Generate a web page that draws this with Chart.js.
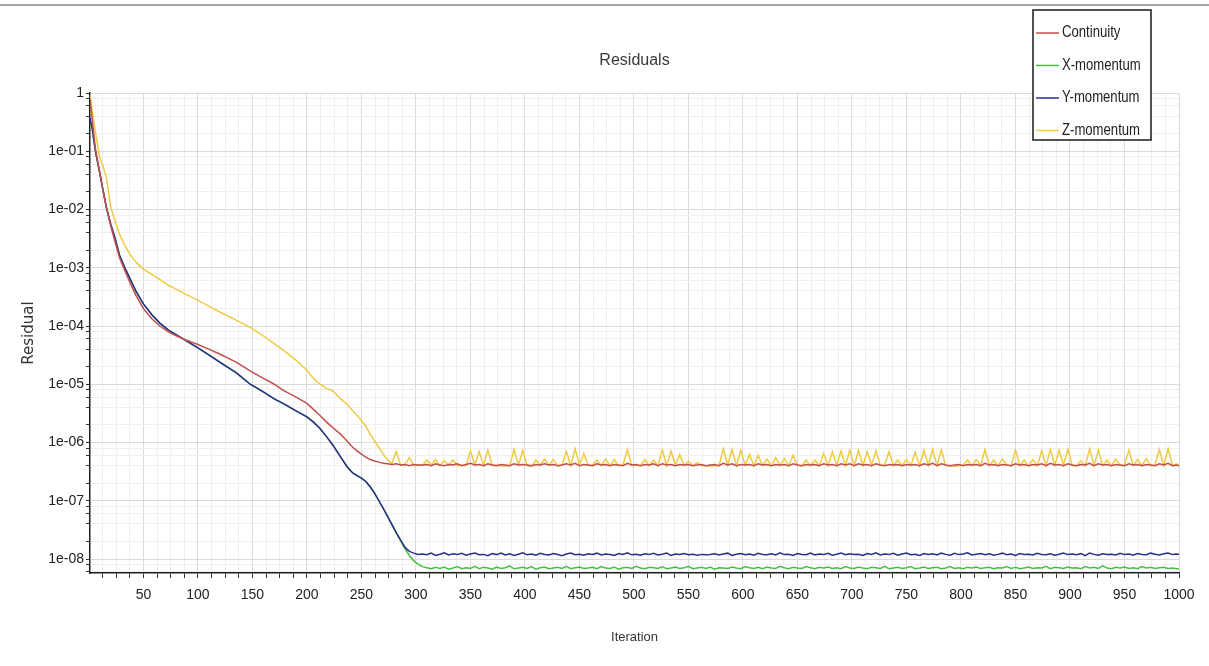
<!DOCTYPE html>
<html>
<head>
<meta charset="utf-8">
<title>Residuals</title>
<script src="https://cdn.jsdelivr.net/npm/chart.js@4.4.1/dist/chart.umd.min.js"></script>
<style>
  html, body { margin: 0; padding: 0; background: #ffffff; }
  #wrap { position: relative; width: 1209px; height: 666px; overflow: hidden; }
  #topRule { position: absolute; left: 0; top: 4px; width: 1209px; height: 2px; background: #a2a2a2; }
  #c { position: absolute; left: 0; top: 0; }
</style>
</head>
<body>
<div id="wrap">
  <div id="topRule"></div>
  <canvas id="c" width="1209" height="666"></canvas>
</div>
<script>
// ---- residual history -------------------------------------------------------
const iterations = [
  1, 3, 6, 10, 13, 16, 20, 24, 28, 33,
  38, 43, 50, 58, 65, 73, 80, 89, 100, 110,
  120, 135, 148, 160, 170, 178, 190, 200, 206, 212,
  218, 224, 231, 237, 242, 246, 250, 254, 258, 262,
  266, 270, 274, 278, 282, 286, 290, 294, 298, 302,
  306, 310, 314, 318, 322, 326, 330, 334, 338, 342,
  346, 350, 354, 358, 362, 366, 370, 374, 378, 382,
  386, 390, 394, 398, 402, 406, 410, 414, 418, 422,
  426, 430, 434, 438, 442, 446, 450, 454, 458, 462,
  466, 470, 474, 478, 482, 486, 490, 494, 498, 502,
  506, 510, 514, 518, 522, 526, 530, 534, 538, 542,
  546, 550, 554, 558, 562, 566, 570, 574, 578, 582,
  586, 590, 594, 598, 602, 606, 610, 614, 618, 622,
  626, 630, 634, 638, 642, 646, 650, 654, 658, 662,
  666, 670, 674, 678, 682, 686, 690, 694, 698, 702,
  706, 710, 714, 718, 722, 726, 730, 734, 738, 742,
  746, 750, 754, 758, 762, 766, 770, 774, 778, 782,
  786, 790, 794, 798, 802, 806, 810, 814, 818, 822,
  826, 830, 834, 838, 842, 846, 850, 854, 858, 862,
  866, 870, 874, 878, 882, 886, 890, 894, 898, 902,
  906, 910, 914, 918, 922, 926, 930, 934, 938, 942,
  946, 950, 954, 958, 962, 966, 970, 974, 978, 982,
  986, 990, 994, 998, 1000
];

const continuity = [
  0.8, 0.35, 0.11, 0.042, 0.021, 0.0107, 5.2e-3, 2.8e-3, 1.5e-3, 8.9e-4,
  5.4e-4, 3.4e-4, 2.0e-4, 1.32e-4, 1.0e-4, 7.9e-5, 6.8e-5, 5.75e-5, 4.8e-5, 4.0e-5,
  3.3e-5, 2.4e-5, 1.7e-5, 1.26e-5, 1.0e-5, 7.9e-6, 6.0e-6, 4.7e-6, 3.7e-6, 2.9e-6,
  2.24e-6, 1.78e-6, 1.38e-6, 1.05e-6, 8.3e-7, 7.2e-7, 6.3e-7, 5.6e-7, 5.1e-7, 4.8e-7,
  4.6e-7, 4.4e-7, 4.3e-7, 4.2e-7, 4.3e-7, 4.1e-7, 4.2e-7, 4.0e-7, 4.2e-7, 4.1e-7,
  4.1e-7, 4.2e-7, 4.0e-7, 4.3e-7, 4.1e-7, 4.0e-7, 4.2e-7, 4.1e-7, 4.3e-7, 4.0e-7,
  4.2e-7, 4.4e-7, 4.1e-7, 4.2e-7, 4.0e-7, 4.3e-7, 4.1e-7, 4.0e-7, 4.2e-7, 4.1e-7,
  4.0e-7, 4.3e-7, 4.1e-7, 4.2e-7, 4.1e-7, 4.0e-7, 4.2e-7, 4.1e-7, 4.3e-7, 4.1e-7,
  4.2e-7, 4.0e-7, 4.1e-7, 4.3e-7, 4.1e-7, 4.4e-7, 4.0e-7, 4.2e-7, 4.1e-7, 4.0e-7,
  4.3e-7, 4.1e-7, 4.2e-7, 4.0e-7, 4.2e-7, 4.1e-7, 4.0e-7, 4.4e-7, 4.1e-7, 4.2e-7,
  4.0e-7, 4.2e-7, 4.1e-7, 4.3e-7, 4.0e-7, 4.3e-7, 4.1e-7, 4.2e-7, 4.0e-7, 4.2e-7,
  4.1e-7, 4.2e-7, 4.0e-7, 4.1e-7, 4.2e-7, 4.0e-7, 4.1e-7, 4.2e-7, 4.0e-7, 4.4e-7,
  4.1e-7, 4.3e-7, 4.0e-7, 4.2e-7, 4.1e-7, 4.2e-7, 4.0e-7, 4.3e-7, 4.1e-7, 4.2e-7,
  4.0e-7, 4.2e-7, 4.1e-7, 4.2e-7, 4.0e-7, 4.3e-7, 4.1e-7, 4.0e-7, 4.2e-7, 4.1e-7,
  4.2e-7, 4.0e-7, 4.3e-7, 4.1e-7, 4.2e-7, 4.0e-7, 4.3e-7, 4.1e-7, 4.3e-7, 4.0e-7,
  4.3e-7, 4.1e-7, 4.2e-7, 4.0e-7, 4.3e-7, 4.1e-7, 4.0e-7, 4.2e-7, 4.1e-7, 4.2e-7,
  4.0e-7, 4.2e-7, 4.1e-7, 4.2e-7, 4.0e-7, 4.3e-7, 4.1e-7, 4.4e-7, 4.0e-7, 4.3e-7,
  4.1e-7, 4.0e-7, 4.1e-7, 4.2e-7, 4.0e-7, 4.2e-7, 4.1e-7, 4.2e-7, 4.0e-7, 4.4e-7,
  4.1e-7, 4.2e-7, 4.0e-7, 4.2e-7, 4.1e-7, 4.0e-7, 4.3e-7, 4.1e-7, 4.2e-7, 4.0e-7,
  4.2e-7, 4.1e-7, 4.3e-7, 4.0e-7, 4.4e-7, 4.1e-7, 4.2e-7, 4.0e-7, 4.3e-7, 4.1e-7,
  4.0e-7, 4.2e-7, 4.1e-7, 4.4e-7, 4.0e-7, 4.3e-7, 4.1e-7, 4.2e-7, 4.0e-7, 4.2e-7,
  4.1e-7, 4.0e-7, 4.3e-7, 4.1e-7, 4.2e-7, 4.0e-7, 4.2e-7, 4.1e-7, 4.0e-7, 4.3e-7,
  4.1e-7, 4.4e-7, 4.0e-7, 4.1e-7, 4.0e-7
];

const xMomentum = [
  0.35, 0.24, 0.1, 0.042, 0.021, 0.011, 5.6e-3, 3.2e-3, 1.66e-3, 1.0e-3,
  6.3e-4, 4.0e-4, 2.4e-4, 1.55e-4, 1.12e-4, 8.5e-5, 7.1e-5, 5.6e-5, 4.2e-5, 3.2e-5,
  2.4e-5, 1.58e-5, 1.0e-5, 7.4e-6, 5.6e-6, 4.7e-6, 3.5e-6, 2.75e-6, 2.24e-6, 1.74e-6,
  1.26e-6, 8.9e-7, 5.6e-7, 3.8e-7, 3.0e-7, 2.7e-7, 2.45e-7, 2.14e-7, 1.74e-7, 1.35e-7,
  1.0e-7, 7.4e-8, 5.4e-8, 3.9e-8, 2.8e-8, 2.05e-8, 1.5e-8, 1.15e-8, 9.3e-9, 8.2e-9,
  7.4e-9, 7.1e-9, 6.8e-9, 7.2e-9, 6.9e-9, 7.3e-9, 6.7e-9, 7.0e-9, 7.4e-9, 6.8e-9,
  7.1e-9, 6.9e-9, 7.5e-9, 6.8e-9, 7.2e-9, 7.0e-9, 6.7e-9, 7.3e-9, 6.9e-9, 7.1e-9,
  7.6e-9, 6.8e-9, 7.0e-9, 7.2e-9, 6.9e-9, 7.4e-9, 6.7e-9, 7.1e-9, 7.3e-9, 6.8e-9,
  7.0e-9, 7.2e-9, 6.9e-9, 7.5e-9, 6.8e-9, 7.1e-9, 7.3e-9, 6.9e-9, 7.0e-9, 7.2e-9,
  6.8e-9, 7.4e-9, 7.0e-9, 6.9e-9, 7.3e-9, 6.7e-9, 7.1e-9, 7.2e-9, 6.9e-9, 7.5e-9,
  7.0e-9, 6.8e-9, 7.2e-9, 7.1e-9, 6.9e-9, 7.4e-9, 6.8e-9, 7.0e-9, 7.3e-9, 6.9e-9,
  7.1e-9, 7.5e-9, 6.8e-9, 7.0e-9, 7.2e-9, 6.9e-9, 7.3e-9, 6.7e-9, 7.1e-9, 7.0e-9,
  6.9e-9, 7.3e-9, 7.0e-9, 6.8e-9, 7.4e-9, 7.1e-9, 6.9e-9, 7.2e-9, 6.8e-9, 7.3e-9,
  7.0e-9, 6.9e-9, 7.5e-9, 7.1e-9, 6.8e-9, 7.2e-9, 7.0e-9, 6.9e-9, 7.4e-9, 7.1e-9,
  6.8e-9, 7.2e-9, 7.0e-9, 7.3e-9, 6.9e-9, 7.1e-9, 6.8e-9, 7.4e-9, 7.0e-9, 6.9e-9,
  7.3e-9, 7.0e-9, 6.8e-9, 7.2e-9, 7.1e-9, 6.9e-9, 7.5e-9, 6.8e-9, 7.0e-9, 7.2e-9,
  6.9e-9, 7.1e-9, 7.4e-9, 6.8e-9, 7.0e-9, 7.3e-9, 6.9e-9, 7.1e-9, 7.2e-9, 6.8e-9,
  7.0e-9, 7.4e-9, 6.9e-9, 7.1e-9, 6.8e-9, 7.2e-9, 7.0e-9, 7.3e-9, 6.9e-9, 7.1e-9,
  7.2e-9, 6.8e-9, 7.1e-9, 7.0e-9, 7.4e-9, 6.9e-9, 7.2e-9, 6.8e-9, 7.0e-9, 7.3e-9,
  6.9e-9, 7.1e-9, 7.0e-9, 7.5e-9, 6.8e-9, 7.2e-9, 7.1e-9, 6.9e-9, 7.3e-9, 7.0e-9,
  7.1e-9, 6.8e-9, 7.4e-9, 7.0e-9, 7.2e-9, 6.9e-9, 7.6e-9, 7.0e-9, 6.8e-9, 7.2e-9,
  7.0e-9, 7.3e-9, 6.9e-9, 7.1e-9, 6.8e-9, 7.4e-9, 7.0e-9, 7.2e-9, 6.9e-9, 7.1e-9,
  7.2e-9, 6.9e-9, 7.0e-9, 6.8e-9, 6.7e-9
];

const yMomentum = [
  0.37, 0.25, 0.1, 0.042, 0.021, 0.011, 5.6e-3, 3.2e-3, 1.66e-3, 1.0e-3,
  6.3e-4, 4.0e-4, 2.4e-4, 1.55e-4, 1.12e-4, 8.5e-5, 7.1e-5, 5.6e-5, 4.2e-5, 3.2e-5,
  2.4e-5, 1.58e-5, 1.0e-5, 7.4e-6, 5.6e-6, 4.7e-6, 3.5e-6, 2.75e-6, 2.24e-6, 1.74e-6,
  1.26e-6, 8.9e-7, 5.6e-7, 3.8e-7, 3.0e-7, 2.7e-7, 2.45e-7, 2.14e-7, 1.74e-7, 1.35e-7,
  1.0e-7, 7.4e-8, 5.4e-8, 3.9e-8, 2.8e-8, 2.1e-8, 1.58e-8, 1.35e-8, 1.26e-8, 1.2e-8,
  1.22e-8, 1.18e-8, 1.26e-8, 1.15e-8, 1.21e-8, 1.28e-8, 1.17e-8, 1.23e-8, 1.19e-8, 1.25e-8,
  1.16e-8, 1.22e-8, 1.27e-8, 1.18e-8, 1.2e-8, 1.14e-8, 1.24e-8, 1.19e-8, 1.26e-8, 1.17e-8,
  1.23e-8, 1.15e-8, 1.21e-8, 1.28e-8, 1.18e-8, 1.22e-8, 1.16e-8, 1.25e-8, 1.2e-8, 1.17e-8,
  1.24e-8, 1.19e-8, 1.14e-8, 1.22e-8, 1.27e-8, 1.18e-8, 1.21e-8, 1.16e-8, 1.23e-8, 1.2e-8,
  1.26e-8, 1.17e-8, 1.22e-8, 1.19e-8, 1.15e-8, 1.24e-8, 1.2e-8, 1.28e-8, 1.18e-8, 1.21e-8,
  1.16e-8, 1.23e-8, 1.19e-8, 1.25e-8, 1.17e-8, 1.21e-8, 1.27e-8, 1.15e-8, 1.22e-8, 1.19e-8,
  1.24e-8, 1.18e-8, 1.21e-8, 1.16e-8, 1.2e-8, 1.18e-8, 1.19e-8, 1.23e-8, 1.17e-8, 1.22e-8,
  1.26e-8, 1.15e-8, 1.21e-8, 1.24e-8, 1.18e-8, 1.22e-8, 1.16e-8, 1.25e-8, 1.2e-8, 1.18e-8,
  1.23e-8, 1.17e-8, 1.28e-8, 1.19e-8, 1.21e-8, 1.15e-8, 1.24e-8, 1.2e-8, 1.18e-8, 1.26e-8,
  1.17e-8, 1.22e-8, 1.19e-8, 1.25e-8, 1.16e-8, 1.21e-8, 1.27e-8, 1.18e-8, 1.23e-8, 1.19e-8,
  1.21e-8, 1.15e-8, 1.24e-8, 1.2e-8, 1.28e-8, 1.17e-8, 1.22e-8, 1.19e-8, 1.25e-8, 1.16e-8,
  1.22e-8, 1.27e-8, 1.18e-8, 1.21e-8, 1.15e-8, 1.24e-8, 1.19e-8, 1.23e-8, 1.17e-8, 1.26e-8,
  1.2e-8, 1.16e-8, 1.25e-8, 1.19e-8, 1.22e-8, 1.28e-8, 1.17e-8, 1.21e-8, 1.24e-8, 1.18e-8,
  1.23e-8, 1.16e-8, 1.2e-8, 1.26e-8, 1.18e-8, 1.22e-8, 1.15e-8, 1.24e-8, 1.19e-8, 1.21e-8,
  1.17e-8, 1.25e-8, 1.2e-8, 1.18e-8, 1.23e-8, 1.16e-8, 1.21e-8, 1.27e-8, 1.19e-8, 1.22e-8,
  1.18e-8, 1.24e-8, 1.14e-8, 1.27e-8, 1.2e-8, 1.16e-8, 1.23e-8, 1.19e-8, 1.21e-8, 1.17e-8,
  1.25e-8, 1.19e-8, 1.22e-8, 1.16e-8, 1.24e-8, 1.2e-8, 1.18e-8, 1.26e-8, 1.21e-8, 1.17e-8,
  1.23e-8, 1.27e-8, 1.19e-8, 1.22e-8, 1.2e-8
];

const zMomentum = [
  0.95, 0.5, 0.21, 0.076, 0.056, 0.035, 0.011, 6.3e-3, 3.8e-3, 2.4e-3,
  1.66e-3, 1.26e-3, 9.5e-4, 7.6e-4, 6.3e-4, 5.0e-4, 4.3e-4, 3.5e-4, 2.75e-4, 2.2e-4,
  1.74e-4, 1.26e-4, 9.5e-5, 6.8e-5, 5.0e-5, 3.9e-5, 2.6e-5, 1.74e-5, 1.26e-5, 1.0e-5,
  8.5e-6, 7.6e-6, 5.6e-6, 4.5e-6, 3.5e-6, 2.9e-6, 2.4e-6, 1.9e-6, 1.4e-6, 1.07e-6,
  8.3e-7, 6.3e-7, 5.0e-7, 4.4e-7, 7.0e-7, 4.1e-7, 4.2e-7, 5.5e-7, 4.0e-7, 4.1e-7,
  4.0e-7, 5.0e-7, 4.1e-7, 5.1e-7, 4.0e-7, 4.9e-7, 4.1e-7, 5.0e-7, 4.0e-7, 4.1e-7,
  4.0e-7, 7.2e-7, 4.1e-7, 7.0e-7, 4.0e-7, 7.4e-7, 4.0e-7, 4.1e-7, 3.9e-7, 4.0e-7,
  4.0e-7, 7.6e-7, 4.1e-7, 7.3e-7, 4.0e-7, 3.9e-7, 5.0e-7, 4.1e-7, 5.2e-7, 4.0e-7,
  5.1e-7, 4.0e-7, 4.1e-7, 7.0e-7, 4.0e-7, 7.8e-7, 4.1e-7, 6.5e-7, 4.0e-7, 4.1e-7,
  5.0e-7, 4.0e-7, 5.2e-7, 4.0e-7, 5.1e-7, 4.0e-7, 4.1e-7, 7.6e-7, 4.0e-7, 4.1e-7,
  4.0e-7, 5.1e-7, 4.0e-7, 5.0e-7, 4.0e-7, 7.4e-7, 4.0e-7, 7.2e-7, 4.1e-7, 6.2e-7,
  4.0e-7, 4.8e-7, 4.0e-7, 4.5e-7, 4.0e-7, 4.0e-7, 3.9e-7, 4.0e-7, 4.0e-7, 7.8e-7,
  4.1e-7, 7.6e-7, 4.0e-7, 7.4e-7, 4.1e-7, 6.2e-7, 4.0e-7, 6.0e-7, 4.0e-7, 5.2e-7,
  4.0e-7, 5.5e-7, 4.0e-7, 5.3e-7, 4.0e-7, 6.0e-7, 4.1e-7, 4.0e-7, 5.0e-7, 4.0e-7,
  5.0e-7, 4.0e-7, 6.5e-7, 4.0e-7, 7.0e-7, 4.0e-7, 7.2e-7, 4.0e-7, 7.4e-7, 4.0e-7,
  7.3e-7, 4.0e-7, 7.0e-7, 4.1e-7, 7.2e-7, 4.0e-7, 4.1e-7, 7.0e-7, 4.0e-7, 5.0e-7,
  4.0e-7, 5.1e-7, 4.0e-7, 6.8e-7, 4.0e-7, 7.3e-7, 4.1e-7, 7.6e-7, 4.0e-7, 7.5e-7,
  4.0e-7, 4.0e-7, 3.9e-7, 4.0e-7, 4.1e-7, 5.0e-7, 4.0e-7, 5.1e-7, 4.0e-7, 7.6e-7,
  4.0e-7, 5.0e-7, 4.0e-7, 5.2e-7, 4.1e-7, 4.0e-7, 7.5e-7, 4.0e-7, 5.0e-7, 4.0e-7,
  5.1e-7, 4.0e-7, 7.2e-7, 4.0e-7, 7.7e-7, 4.0e-7, 7.4e-7, 4.1e-7, 7.6e-7, 4.0e-7,
  4.0e-7, 4.9e-7, 4.0e-7, 7.8e-7, 4.0e-7, 7.3e-7, 4.0e-7, 5.0e-7, 4.0e-7, 5.2e-7,
  4.0e-7, 4.1e-7, 7.4e-7, 4.0e-7, 5.1e-7, 4.0e-7, 5.3e-7, 4.0e-7, 4.1e-7, 7.6e-7,
  4.0e-7, 7.8e-7, 4.0e-7, 4.3e-7, 3.9e-7
];

const seriesNames  = ['Continuity', 'X-momentum', 'Y-momentum', 'Z-momentum'];
const seriesColors = ['#c0504d', '#44c044', '#2c2c8c', '#efcb45'];

// axis ticks and labels
const xMajorTicks = [50, 100, 150, 200, 250, 300, 350, 400, 450, 500, 550, 600, 650, 700, 750, 800, 850, 900, 950, 1000];
const xTickLabels = ['50', '100', '150', '200', '250', '300', '350', '400', '450', '500', '550', '600', '650', '700', '750', '800', '850', '900', '950', '1000'];
const yMajorTicks = [1, 1e-1, 1e-2, 1e-3, 1e-4, 1e-5, 1e-6, 1e-7, 1e-8];
const yTickLabels = ['1', '1e-01', '1e-02', '1e-03', '1e-04', '1e-05', '1e-06', '1e-07', '1e-08'];
const chartTitle = 'Residuals';

// ---- styling ------------------------------------------------------------------
const SANS = "'Liberation Sans', Arial, sans-serif";
const Y_MIN = 5.75e-9, Y_MAX = 1;
const X_MIN = 1, X_MAX = 1000, X_MINOR_STEP = 12.5;
const GRID_MAJOR = '#dadada', GRID_MINOR = '#efefef';

function yMajorIndex(v) {
  const lv = Math.log10(v);
  return yMajorTicks.findIndex(t => Math.abs(Math.log10(t) - lv) < 1e-6);
}

const seriesValues = [continuity, xMomentum, yMomentum, zMomentum];
// draw order: continuity on top, then Y over X, Z underneath
const drawOrder = [0, 2, 1, 3];

const datasets = seriesNames.map((name, s) => ({
  label: name,
  data: iterations.map((it, i) => ({ x: it, y: seriesValues[s][i] })),
  borderColor: seriesColors[s],
  backgroundColor: seriesColors[s],
  borderWidth: 1.5,
  pointRadius: 0,
  fill: false,
  tension: 0,
  order: drawOrder[s]
}));

// title centred over the plot area
const plotTitle = {
  id: 'plotTitle',
  afterDraw(chart) {
    const { ctx, chartArea } = chart;
    ctx.save();
    ctx.font = '16px ' + SANS;
    ctx.fillStyle = '#3a3a3a';
    ctx.textAlign = 'center';
    ctx.textBaseline = 'middle';
    ctx.fillText(chartTitle, (chartArea.left + chartArea.right) / 2, 61);
    ctx.restore();
  }
};

// boxed legend in the upper-right corner, text in a narrowed face
const boxLegend = {
  id: 'boxLegend',
  afterDraw(chart) {
    const ctx = chart.ctx;
    const box = { x: 1033, y: 10, w: 118, h: 130 };
    const rowY0 = 33, rowStep = 32.5, squeeze = 0.82;
    ctx.save();
    ctx.fillStyle = '#ffffff';
    ctx.fillRect(box.x, box.y, box.w, box.h);
    ctx.strokeStyle = '#1a1a1a';
    ctx.lineWidth = 1.5;
    ctx.strokeRect(box.x, box.y, box.w, box.h);
    ctx.font = '16px ' + SANS;
    ctx.textBaseline = 'middle';
    ctx.textAlign = 'left';
    chart.data.datasets.forEach((ds, i) => {
      const y = rowY0 + i * rowStep;
      ctx.strokeStyle = ds.borderColor;
      ctx.lineWidth = 1.5;
      ctx.beginPath();
      ctx.moveTo(box.x + 3, y);
      ctx.lineTo(box.x + 26, y);
      ctx.stroke();
      ctx.save();
      ctx.translate(box.x + 29, y);
      ctx.scale(squeeze, 1);
      ctx.fillStyle = '#222222';
      ctx.fillText(ds.label, 0, 0);
      ctx.restore();
    });
    ctx.restore();
  }
};

new Chart(document.getElementById('c'), {
  type: 'line',
  data: { datasets },
  plugins: [plotTitle, boxLegend],
  options: {
    responsive: false,
    animation: false,
    events: [],
    layout: { padding: { top: 93, right: 30, bottom: 0, left: 0 } },
    plugins: {
      legend: { display: false },
      tooltip: { enabled: false },
      title: { display: false }
    },
    scales: {
      x: {
        type: 'linear',
        min: X_MIN,
        max: X_MAX,
        afterBuildTicks(scale) {
          const t = [];
          for (let v = X_MINOR_STEP; v <= X_MAX + 1e-9; v += X_MINOR_STEP) t.push({ value: v });
          scale.ticks = t;
        },
        afterFit(scale) { scale.height = 93; },
        ticks: {
          autoSkip: false,
          maxRotation: 0,
          minRotation: 0,
          padding: 9,
          color: '#222222',
          font: { family: SANS, size: 14 },
          callback(v) {
            const i = xMajorTicks.indexOf(v);
            return i >= 0 ? xTickLabels[i] : '';
          }
        },
        grid: {
          color: c => (c.tick && xMajorTicks.includes(c.tick.value)) ? GRID_MAJOR : GRID_MINOR,
          tickColor: '#333333',
          tickLength: 5,
          lineWidth: 1
        },
        border: { color: '#1e1e1e', width: 1.5 },
        title: {
          display: true,
          text: 'Iteration',
          color: '#333333',
          font: { family: SANS, size: 13 },
          padding: { top: 0, bottom: 20.6 }
        }
      },
      y: {
        type: 'logarithmic',
        min: Y_MIN,
        max: Y_MAX,
        afterBuildTicks(scale) {
          const t = [];
          for (let k = -9; k <= 0; k++) {
            for (const m of [1, 2, 4, 6, 8]) {
              const v = m * Math.pow(10, k);
              if (v >= Y_MIN && v <= Y_MAX * 1.000001) t.push({ value: v });
            }
          }
          scale.ticks = t;
        },
        afterFit(scale) { scale.width = 90; },
        ticks: {
          autoSkip: false,
          padding: 2,
          color: '#222222',
          font: { family: SANS, size: 14 },
          callback(v) {
            const i = yMajorIndex(v);
            return i >= 0 ? yTickLabels[i] : '';
          }
        },
        grid: {
          color: c => (c.tick && yMajorIndex(c.tick.value) >= 0) ? GRID_MAJOR : GRID_MINOR,
          tickColor: '#333333',
          tickLength: 4,
          lineWidth: 1
        },
        border: { color: '#1e1e1e', width: 1.5 },
        title: {
          display: true,
          text: 'Residual',
          color: '#333333',
          font: { family: "'DejaVu Sans', sans-serif", size: 15 },
          padding: { top: 20, bottom: 0 }
        }
      }
    }
  }
});
</script>
</body>
</html>
